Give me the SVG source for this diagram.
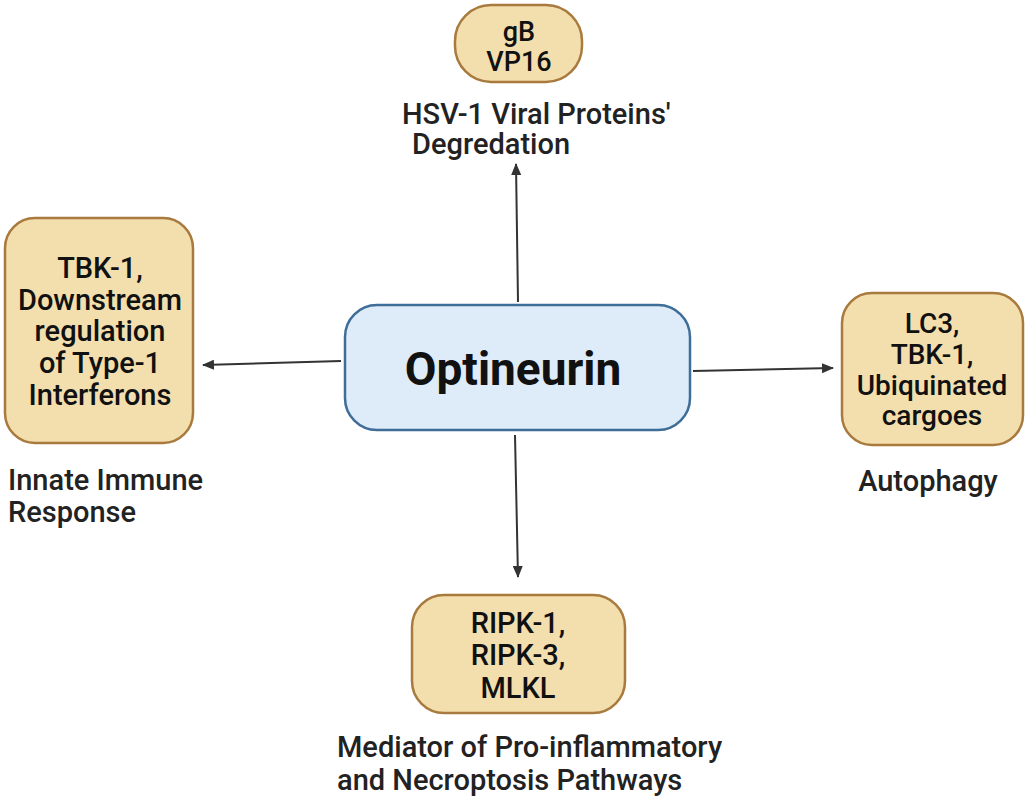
<svg xmlns="http://www.w3.org/2000/svg" width="1029" height="801" viewBox="0 0 1029 801">
<defs>
<marker id="ah" viewBox="0 0 12 10" refX="11" refY="5" markerWidth="12" markerHeight="10" markerUnits="userSpaceOnUse" orient="auto">
<path d="M0,0 L12,5 L0,10 Z" fill="#333"/>
</marker>
<style>
.tan{fill:#f3dfae;stroke:#a87a3e;stroke-width:2.5}
.blue{fill:#deebf8;stroke:#3e6d98;stroke-width:2.5}
.t{font-family:Roboto,"Liberation Sans",sans-serif;font-weight:500;font-size:29px;fill:#111;text-anchor:middle}
.lab{font-family:Roboto,"Liberation Sans",sans-serif;font-weight:500;font-size:29px;fill:#222}
.main{font-family:Roboto,"Liberation Sans",sans-serif;font-weight:700;font-size:46px;fill:#111;text-anchor:middle}
.c{stroke:#333;stroke-width:2;fill:none}
</style>
</defs>
<rect width="1029" height="801" fill="#fff"/>
<g id="connectors">
<line class="c" x1="518" y1="302" x2="516" y2="164" marker-end="url(#ah)"/>
<line class="c" x1="341" y1="361" x2="203" y2="365" marker-end="url(#ah)"/>
<line class="c" x1="693" y1="371" x2="833" y2="368" marker-end="url(#ah)"/>
<line class="c" x1="515" y1="435" x2="518" y2="577" marker-end="url(#ah)"/>
</g>
<g id="optineurin">
<rect class="blue" x="345" y="305" width="345" height="125" rx="32"/>
<text class="main" x="513" y="385">Optineurin</text>
</g>
<g id="viral">
<rect class="tan" x="455" y="5" width="127" height="77" rx="36"/>
<text class="t" x="519" y="41" style="font-size:27px">gB</text>
<text class="t" x="519" y="71" style="font-size:27px">VP16</text>
<text class="lab" x="402" y="124">HSV-1 Viral Proteins'</text>
<text class="lab" x="412" y="154">Degredation</text>
</g>
<g id="innate">
<rect class="tan" x="5" y="218" width="188" height="225" rx="30"/>
<text class="t" x="100" y="278">TBK-1,</text>
<text class="t" x="100" y="310">Downstream</text>
<text class="t" x="100" y="341">regulation</text>
<text class="t" x="100" y="373">of Type-1</text>
<text class="t" x="100" y="405">Interferons</text>
<text class="lab" x="8" y="490">Innate Immune</text>
<text class="lab" x="8" y="522">Response</text>
</g>
<g id="autophagy">
<rect class="tan" x="842" y="293" width="181" height="152" rx="30"/>
<text class="t" x="932" y="333" style="font-size:28px">LC3,</text>
<text class="t" x="932" y="364" style="font-size:28px">TBK-1,</text>
<text class="t" x="932" y="395" style="font-size:28px">Ubiquinated</text>
<text class="t" x="932" y="425" style="font-size:28px">cargoes</text>
<text class="lab" x="928" y="491" text-anchor="middle">Autophagy</text>
</g>
<g id="necroptosis">
<rect class="tan" x="412" y="595" width="213" height="118" rx="32"/>
<text class="t" x="518" y="633">RIPK-1,</text>
<text class="t" x="518" y="665">RIPK-3,</text>
<text class="t" x="518" y="698">MLKL</text>
<text class="lab" x="337" y="757">Mediator of Pro-inflammatory</text>
<text class="lab" x="337" y="790">and Necroptosis Pathways</text>
</g>
</svg>
